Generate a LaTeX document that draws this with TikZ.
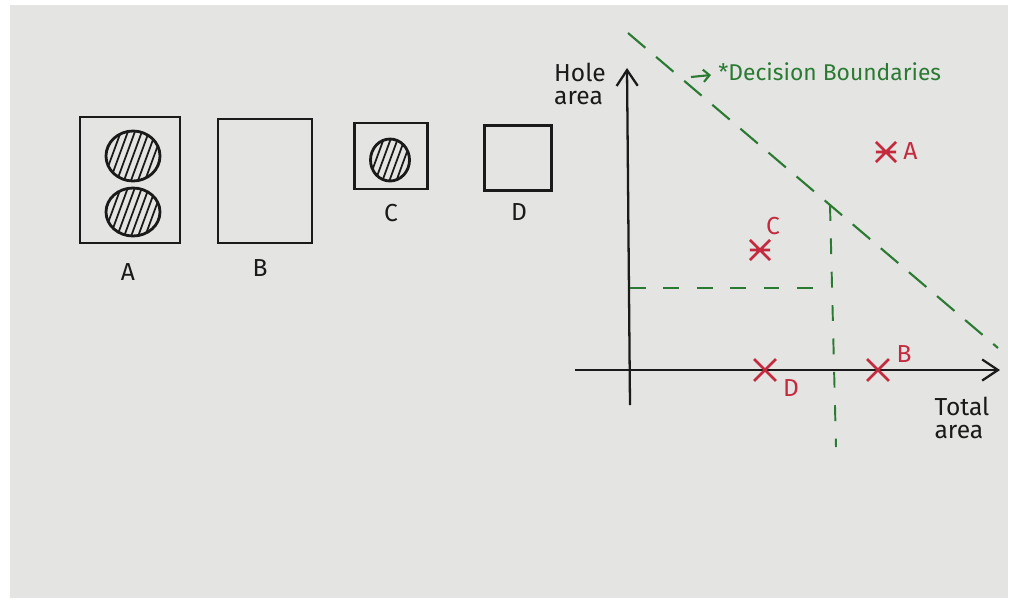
\documentclass[tikz,border=0pt]{standalone}
\usepackage{fontspec}
\setmainfont{Fira Sans}
\usetikzlibrary{arrows.meta}
\definecolor{paper}{HTML}{E4E4E2}
\definecolor{pen}{HTML}{1A1A1A}
\definecolor{grn}{HTML}{2A7A32}
\definecolor{rd}{HTML}{C42A3E}
\tikzset{
  box/.style={draw=pen, line width=1.6pt},
  hole/.style={draw=pen, line width=1.6pt},
  hatch/.style={pen, line width=1pt},
  axis/.style={draw=pen, line width=1.3pt, -{Straight Barb[length=9pt,width=12pt,line width=1.3pt]}},
  bound/.style={draw=grn, line width=1.2pt, dash pattern=on 13pt off 8pt},
  guide/.style={draw=grn, line width=1.1pt, dash pattern=on 9pt off 10pt},
  lbl/.style={font=\fontsize{14}{16}\selectfont, text=pen, inner sep=0pt},
  rlbl/.style={font=\fontsize{14}{16}\selectfont, text=rd, inner sep=0pt},
  ptmark/.style={rd, line width=1.5pt},
}
\begin{document}
\begin{tikzpicture}[x=0.02cm, y=-0.02cm]
\useasboundingbox (0,0) rectangle (1015,606);
\fill[white] (0,0) rectangle (1015,606);
\fill[paper] (10,5) rectangle (1008,598);

% shapes
\node[box, minimum width=100*0.02cm, minimum height=126*0.02cm, inner sep=0pt] (A) at (130,180) {};
\node[box, minimum width=94*0.02cm, minimum height=124*0.02cm, inner sep=0pt] (B) at (265,181) {};
\node[box, minimum width=73*0.02cm, minimum height=66*0.02cm, inner sep=0pt] (C) at (391,156) {};
\node[box, minimum width=67*0.02cm, minimum height=65*0.02cm, inner sep=0pt] (D) at (518,158) {};

% hatched holes
\foreach \cx/\cy/\rx/\ry in {133/156/27/25, 133/212/27/24, 390/160/19.5/21}{
  \begin{scope}
    \clip (\cx,\cy) ellipse [x radius=\rx, y radius=\ry];
    \foreach \k in {-42,-35,...,42}{
      \draw[hatch] (\cx+\k-11,\cy+30) -- (\cx+\k+11,\cy-30);
    }
  \end{scope}
  \draw[hole] (\cx,\cy) ellipse [x radius=\rx, y radius=\ry];
}

\node[lbl] (lA) at (128,272) {A};
\node[lbl] (lB) at (260,268) {B};
\node[lbl] (lC) at (391,213) {C};
\node[lbl] (lD) at (519,212) {D};

% axes
\coordinate (ybot) at (630,405);
\coordinate (ytop) at (627,68);
\coordinate (xl) at (575,370);
\coordinate (xr) at (1000,370);
\draw[axis] (ybot) -- (ytop);
\draw[axis] (xl) -- (xr);
\node[lbl, align=left] (yl) at (580,84) {Hole\\[-3pt]area};
\node[lbl, align=left] (xlab) at (962,418) {Total\\[-3pt]area};

% decision boundary
\coordinate (b1) at (628,33);
\coordinate (b2) at (998,348);
\coordinate (bm) at (830,205);
\draw[bound] (b1) -- (b2);
\coordinate (v2) at (836,447);
\coordinate (h1) at (630,288);
\coordinate (h2) at (830,288);
\draw[guide] (bm) -- (v2);
\draw[guide] (h1) -- (h2);

\coordinate (ar1) at (691,77);
\coordinate (ar2) at (711,75);
\node[font=\fontsize{13}{15}\selectfont, text=grn, inner sep=0pt, anchor=west] (dec) at (718,72) {*Decision Boundaries};
\draw[grn, line width=1.2pt, -{Straight Barb[length=3.5pt,width=7pt,line width=1.2pt]}] (ar1) -- (ar2);

% points
\node[inner sep=0pt, minimum size=11pt] (pA) at (886,152) {};
\draw[ptmark] (pA.north west) -- (pA.south east) (pA.north east) -- (pA.south west) (pA.west) -- (pA.east);
\node[rlbl, anchor=west] (tA) at (903,151) {A};

\node[inner sep=0pt, minimum size=11pt] (pC) at (760,250) {};
\draw[ptmark] (pC.north west) -- (pC.south east) (pC.north east) -- (pC.south west) (pC.west) -- (pC.east);
\node[rlbl] (tC) at (773,226) {C};

\node[inner sep=0pt, minimum size=12pt] (pD) at (765,370) {};
\draw[ptmark] (pD.north west) -- (pD.south east) (pD.north east) -- (pD.south west);
\node[rlbl] (tD) at (791,388) {D};

\node[inner sep=0pt, minimum size=12pt] (pB) at (878,370) {};
\draw[ptmark] (pB.north west) -- (pB.south east) (pB.north east) -- (pB.south west);
\node[rlbl] (tB) at (904,354) {B};
\end{tikzpicture}
\end{document}
